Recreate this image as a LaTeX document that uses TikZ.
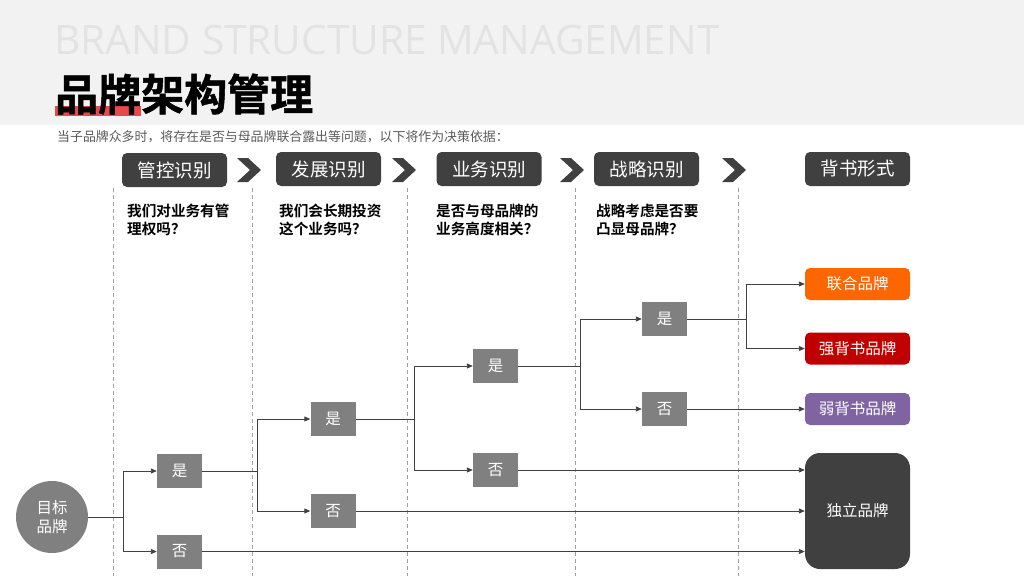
\documentclass[tikz,border=0pt]{standalone}
\usepackage{fontspec}
\setmainfont{Noto Sans CJK SC}[BoldFont={Noto Sans CJK SC Bold}]
\newfontfamily\titlefont{Noto Sans CJK SC Bold}[FakeBold=1.2]
\newfontfamily\enfont{Open Sans}
\usetikzlibrary{arrows.meta}
\definecolor{band}{HTML}{F2F2F2}
\definecolor{ghost}{HTML}{E3E3E3}
\definecolor{darkbox}{HTML}{404040}
\definecolor{midgray}{HTML}{808080}
\definecolor{titlered}{HTML}{E84A4A}
\definecolor{orangeb}{HTML}{FF6600}
\definecolor{redb}{HTML}{C00000}
\definecolor{purpleb}{HTML}{8064A2}
\definecolor{linec}{HTML}{404040}
\definecolor{subc}{HTML}{595959}
\definecolor{dashc}{HTML}{A0A0A0}
\tikzset{
  hdr/.style={fill=darkbox, rounded corners=5pt, minimum width=105pt, minimum height=34pt, text=white, font=\fontsize{18.5}{20}\selectfont, inner sep=0pt},
  choice/.style={fill=midgray, minimum width=45pt, minimum height=34pt, text=white, font=\fontsize{15.5}{17}\selectfont, inner sep=0pt},
  outc/.style={rounded corners=5pt, minimum width=105pt, minimum height=32pt, text=white, font=\fontsize{15.5}{17}\selectfont, inner sep=0pt},
  ques/.style={anchor=north west, align=left, font=\bfseries\fontsize{14.6}{18}\selectfont, inner sep=0pt, text=black},
  conn/.style={draw=linec, line width=0.9pt, -{Triangle[length=6pt,width=5pt]}},
  link/.style={draw=linec, line width=0.9pt},
  vdash/.style={draw=dashc, line width=0.6pt, dash pattern=on 4pt off 3pt},
  chev/.style={fill=darkbox, draw=none}
}
\begin{document}
\begin{tikzpicture}[x=1pt,y=-1pt]
\useasboundingbox (0,0) rectangle (1024,576);
% top band
\fill[band] (0,0) rectangle (1024,125);
\node[anchor=west, inner sep=0pt, text=ghost, font=\enfont\fontsize{40.6}{44}\selectfont] (eng) at (54,40) {BRAND STRUCTURE MANAGEMENT};
\fill[titlered] (55,106) rectangle (141,116);
\node[anchor=west, inner sep=0pt, font=\titlefont\fontsize{43}{45}\selectfont, text=black] (title) at (55,94) {品牌架构管理};
\node[anchor=west, inner sep=0pt, font=\fontsize{12.9}{14}\selectfont, text=subc] (sub) at (57,137) {当子品牌众多时，将存在是否与母品牌联合露出等问题，以下将作为决策依据：};
% dashed separators
\foreach \x in {113,252,407,575,738} \draw[vdash] (\x,188) -- (\x,576);
% headers
\node[hdr] (h1) at (174.5,170) {管控识别};
\node[hdr] (h2) at (328.5,169) {发展识别};
\node[hdr] (h3) at (489,169) {业务识别};
\node[hdr] (h4) at (646.5,169) {战略识别};
\node[hdr] (h5) at (857.5,169) {背书形式};
% chevrons
\foreach \cx in {249,404,572,734}
  \fill[chev] (\cx-12,158) -- (\cx-1,158) -- (\cx+12,170) -- (\cx-1,182) -- (\cx-12,182) -- (\cx+1,170) -- cycle;
% questions
\node[ques] (q1) at (127,204) {我们对业务有管\\理权吗？};
\node[ques] (q2) at (279,204) {我们会长期投资\\这个业务吗？};
\node[ques] (q3) at (436,204) {是否与母品牌的\\业务高度相关？};
\node[ques] (q4) at (596,204) {战略考虑是否要\\凸显母品牌？};
% target
\node[circle, fill=midgray, minimum size=72pt, inner sep=0pt, text=white, align=center, font=\fontsize{15.5}{19}\selectfont] (tgt) at (52,517) {目标\\品牌};
% choices
\node[choice] (y1) at (179.5,471) {是};
\node[choice] (n1) at (179.5,551.5) {否};
\node[choice] (y2) at (333,419) {是};
\node[choice] (n2) at (333,511) {否};
\node[choice] (y3) at (495.5,366) {是};
\node[choice] (n3) at (495.5,470) {否};
\node[choice] (y4) at (664.5,319) {是};
\node[choice] (n4) at (664.5,409) {否};
% outcomes
\node[outc, fill=orangeb] (o1) at (857.5,284) {联合品牌};
\node[outc, fill=redb] (o2) at (857.5,348.5) {强背书品牌};
\node[outc, fill=purpleb] (o3) at (857.5,409) {弱背书品牌};
\node[outc, fill=darkbox, minimum height=116pt, rounded corners=15pt] (o4) at (857.5,511) {独立品牌};
% junctions
\coordinate (j1) at (123,517);
\coordinate (j2) at (257,471);
\coordinate (j3) at (414,419);
\coordinate (j4) at (580,366);
\coordinate (j5) at (746,319);
% connectors
\draw[link] (tgt.east) -- (j1);
\draw[conn] (j1) |- (y1.west);
\draw[conn] (j1) |- (n1.west);
\draw[link] (y1.east) -- (j2);
\draw[conn] (j2) |- (y2.west);
\draw[conn] (j2) |- (n2.west);
\draw[link] (y2.east) -- (j3);
\draw[conn] (j3) |- (y3.west);
\draw[conn] (j3) |- (n3.west);
\draw[link] (y3.east) -- (j4);
\draw[conn] (j4) |- (y4.west);
\draw[conn] (j4) |- (n4.west);
\draw[link] (y4.east) -- (j5);
\draw[conn] (j5) |- (o1.west);
\draw[conn] (j5) |- (o2.west);
\draw[conn] (n4.east) -- (o3.west);
\draw[conn] (n3.east) -- (n3.east -| o4.west);
\draw[conn] (n2.east) -- (n2.east -| o4.west);
\draw[conn] (n1.east) -- (n1.east -| o4.west);
\end{tikzpicture}
\end{document}
